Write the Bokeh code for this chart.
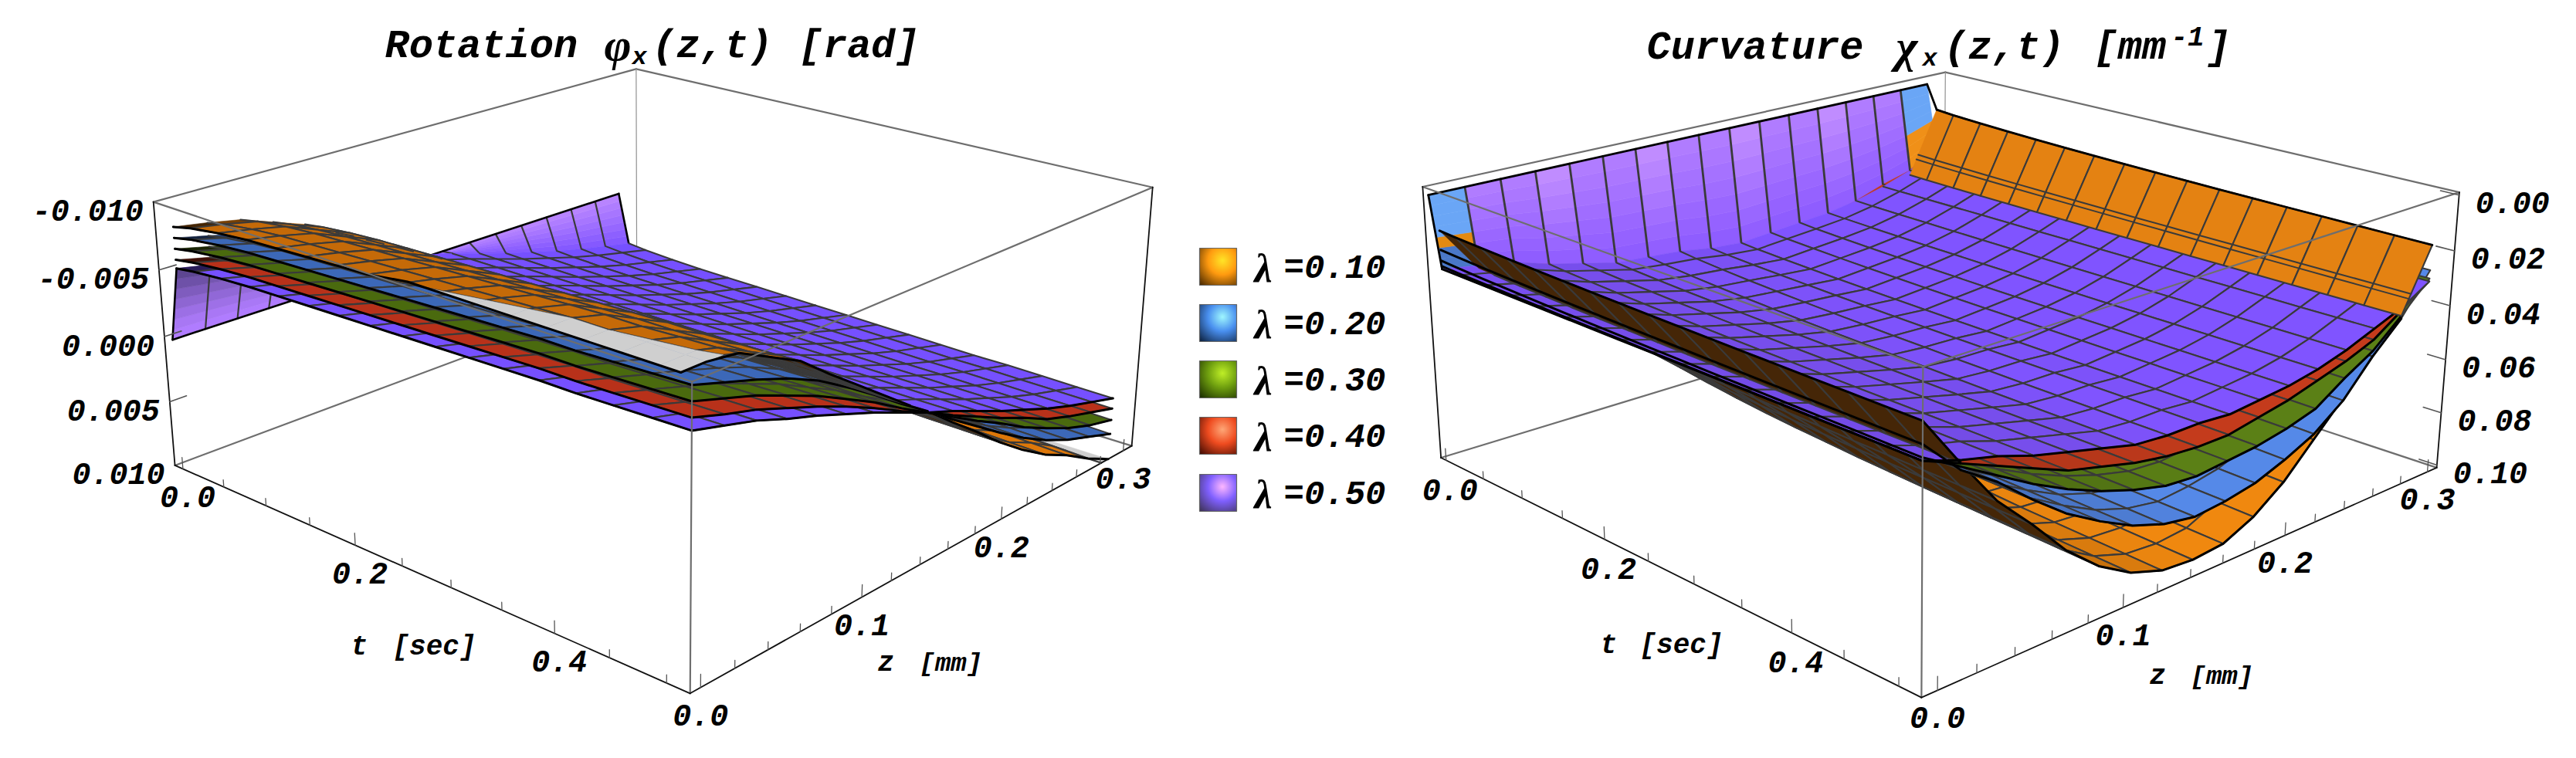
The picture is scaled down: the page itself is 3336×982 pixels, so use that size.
import numpy as np
from bokeh.plotting import figure
from bokeh.models import ColumnDataSource, Range1d
from bokeh.core.properties import value
from bokeh.embed import file_html
from bokeh.resources import INLINE

# ---------- values ----------
LAMBDAS = ["0.10", "0.20", "0.30", "0.40", "0.50"]
Z_TICKS = [0.0, 0.1, 0.2, 0.3]
T_TICKS = [0.0, 0.2, 0.4]
ROT_TICKS = [-0.010, -0.005, 0.000, 0.005, 0.010]
CURV_TICKS = [0.00, 0.02, 0.04, 0.06, 0.08, 0.10]

# rotation at the t-end of the surface along z, unit 1e-4 rad
rot_010 = [-108, -103, -97, -86, -75, -58, -42, -26, -10, 7, 23, 40, 55, 68, 78, 90, 105]
rot_020 = [-98, -91, -84, -76, -66, -53, -39, -24, -10, 5, 19, 33, 46, 57, 66, 73, 80]
rot_030 = [-88, -81, -74, -65, -56, -45, -34, -21, -9, 3, 15, 26, 38, 48, 57, 64, 69]
rot_040 = [-78, -71, -65, -57, -49, -40, -30, -19, -9, 2, 12, 22, 31, 41, 48, 54, 60]
rot_050 = [-70, -64, -58, -50, -43, -35, -27, -18, -9, -1, 8, 17, 25, 33, 40, 46, 52]
# share of that profile reached at each t station
rot_time = [0.80, 0.83, 0.86, 0.88, 0.89, 0.90, 0.91, 0.92, 0.93, 0.94, 0.95, 0.96, 0.97, 0.97, 0.98, 0.99, 1.0]

# curvature along z just after t=0 and at the t-end, unit 1e-3 1/mm
curv_s_010 = [13, 30, 38, 46, 54, 60, 64, 66, 67, 66, 62, 57, 50, 44, 40, 36, 11]
curv_s_020 = [20, 28, 34, 40, 46, 50, 54, 56, 58, 58, 56, 52, 48, 44, 40, 36, 21]
curv_s_030 = [24, 29, 33, 37, 41, 46, 49, 52, 53, 53, 52, 49, 46, 42, 38, 35, 25]
curv_s_040 = [26, 29, 32, 35, 39, 43, 46, 48, 49, 50, 48, 46, 44, 41, 37, 34, 26]
curv_s_050 = [27, 29, 31, 35, 38, 41, 42, 43, 45, 46, 45, 44, 43, 41, 38, 34, 27]
curv_e_010 = [15, 32, 48, 60, 73, 83, 90, 94, 95, 94, 89, 81, 70, 59, 47, 37, 15]
curv_e_020 = [22, 34, 42, 52, 61, 68, 74, 78, 80, 79, 77, 73, 68, 60, 48, 38, 24]
curv_e_030 = [26, 33, 40, 47, 53, 58, 62, 65, 66, 65, 64, 62, 59, 52, 46, 37, 27]
curv_e_040 = [27, 32, 37, 42, 47, 50, 53, 55, 56, 56, 54, 52, 49, 46, 42, 35, 28]
curv_e_050 = [27, 31, 34, 38, 41, 44, 47, 48, 48, 49, 48, 47, 45, 42, 38, 34, 28]
curv_blend = [0.0, 0.15, 0.30, 0.42, 0.52, 0.60, 0.67, 0.73, 0.78, 0.82, 0.86, 0.89, 0.92, 0.94, 0.96, 0.98, 1.0]

# ---------- style / camera ----------
ROT_COL = ["#C56A08", "#3C68B8", "#4A6A0E", "#B8311A", "#7650FF"]
CUR_COL = ["#F0880F", "#5589E8", "#5B8016", "#C43B1C", "#8054FF"]
UNDER = ["#452607", "#1C3058", "#1E2C06", "#4A140A", "#2C2060"]
MESH = "#3a3a3a"
MESH_W = 2.1
BOX = "#6e6e6e"
FONT = value("Liberation Mono")
SERIF = value("Liberation Serif")
N_CELL = 16
T_WALL = 0.012
T_END = 0.52
T_END_010 = 0.505
SHIFT = 6


def hx(c):
    return np.array([int(c[i:i + 2], 16) for i in (1, 3, 5)], float)


def tohex(a):
    a = np.clip(np.round(a), 0, 255).astype(int)
    return "#%02x%02x%02x" % tuple(a)


def mix(c1, c2, f):
    return tohex(hx(c1) * (1 - f) + hx(c2) * f)


def Y(y):
    return 982 - y


class Cam:
    def __init__(s, corners, zr, tr, vr):
        A = []
        for (u, v, w), (x, y) in corners.items():
            X = [u, v, w, 1]
            A.append(X + [0] * 4 + [-x * c for c in X])
            A.append([0] * 4 + X + [-y * c for c in X])
        V = np.linalg.svd(np.array(A, float))[2]
        s.P = V[-1].reshape(3, 4)
        if s.P[2] @ np.array([0, 0, 0, 1.0]) < 0:
            s.P = -s.P
        s.zr, s.tr, s.vr = zr, tr, vr
        s.sign = 1 if s.w(zr[0], tr[1], vr[0]) < s.w(zr[1], tr[0], vr[0]) else -1

    def X(s, z, t, v):
        return np.array([(z - s.zr[0]) / (s.zr[1] - s.zr[0]), (t - s.tr[0]) / (s.tr[1] - s.tr[0]),
                         (v - s.vr[0]) / (s.vr[1] - s.vr[0]), 1.0])

    def w(s, z, t, v):
        return s.P[2] @ s.X(z, t, v)

    def xy(s, z, t, v):
        h = s.P @ s.X(z, t, v)
        return h[0] / h[2], h[1] / h[2]

    def depth(s, poly):
        c = np.mean(poly, axis=0)
        return s.sign * s.w(*c)


ROT = Cam({(0, 0, 0): (228, 603), (0, 1, 0): (896, 901), (1, 1, 0): (1468, 575), (1, 0, 0): (825, 385),
           (0, 0, 1): (201, 262), (0, 1, 1): (896, 498), (1, 1, 1): (1494, 246), (1, 0, 1): (826, 89)},
          (-0.006, 0.3075), (-0.01, T_END), (0.01, -0.01))
CUR = Cam({(0, 0, 0): (1869, 594), (0, 1, 0): (2491, 906), (1, 1, 0): (3159, 605), (1, 0, 0): (2515, 398),
           (0, 0, 1): (1843, 243), (0, 1, 1): (2490, 477), (1, 1, 1): (3185, 252), (1, 0, 1): (2524, 94)},
          (-0.008, 0.307), (-0.007, T_END), (0.101, -0.001))

p = figure(width=3320, height=966, x_range=Range1d(8 - SHIFT, 3328 - SHIFT), y_range=Range1d(8 + SHIFT, 974 + SHIFT),
           output_backend="svg", toolbar_location=None, min_border=0,
           x_axis_type=None, y_axis_type=None, background_fill_color="white", border_fill_color="white")
p.grid.visible = False
p.outline_line_color = None


def draw_cells(cam, cells):
    """cells: list of (poly3d, fill, line_color, line_width)"""
    if not cells:
        return
    cells = sorted(cells, key=lambda c: -cam.depth(c[0]))
    xs, ys, fc, lc, lw = [], [], [], [], []
    for poly, f, l, w in cells:
        pts = [cam.xy(*q) for q in poly]
        xs.append([a for a, _ in pts])
        ys.append([Y(b) for _, b in pts])
        fc.append(f)
        lc.append(l)
        lw.append(w)
    p.patches("xs", "ys", source=ColumnDataSource(dict(xs=xs, ys=ys, fc=fc, lc=lc, lw=lw)),
              fill_color="fc", line_color="lc", line_width="lw", line_join="round")


def draw_lines(cam, lines, color, width):
    if not lines:
        return
    xs, ys = [], []
    for ln in lines:
        pts = [cam.xy(*q) for q in ln]
        xs.append([a for a, _ in pts])
        ys.append([Y(b) for _, b in pts])
    p.multi_line(xs, ys, line_color=color, line_width=width, line_join="round", line_cap="round")


def box_lines(cam, which, color, width):
    z0, z1 = cam.zr
    t0, t1 = cam.tr
    vb, vt = cam.vr
    c = {"E": (z0, t0, vb), "F": (z0, t1, vb), "G": (z1, t1, vb), "H": (z1, t0, vb),
         "A": (z0, t0, vt), "C": (z0, t1, vt), "D": (z1, t1, vt), "B": (z1, t0, vt)}
    draw_lines(cam, [[c[a], c[b]] for a, b in which], color, width)


def signed_area(cam, poly):
    pts = [cam.xy(*q) for q in poly]
    return sum(pts[i][0] * pts[(i + 1) % len(pts)][1] - pts[(i + 1) % len(pts)][0] * pts[i][1]
               for i in range(len(pts))) / 2


def clip_poly(poly, f):
    out = []
    for i, a in enumerate(poly):
        b = poly[(i + 1) % len(poly)]
        fa, fb = f(a), f(b)
        if fa >= 0:
            out.append(a)
        if fa * fb < 0:
            k = fa / (fa - fb)
            out.append(tuple(a[n] + k * (b[n] - a[n]) for n in range(3)))
    return out


def surface_cells(cam, zs, ts, V, top, under, irange, shade=0.0, clip=None, dark_corner=False, gain=1.0):
    cells = []
    vspan = abs(cam.vr[1] - cam.vr[0])
    zspan = cam.zr[1] - cam.zr[0]
    for j in range(len(ts) - 1):
        for i in irange:
            poly = [(zs[i], ts[j], V[j][i]), (zs[i + 1], ts[j], V[j][i + 1]),
                    (zs[i + 1], ts[j + 1], V[j + 1][i + 1]), (zs[i], ts[j + 1], V[j + 1][i])]
            slope = ((V[j][i + 1] - V[j][i]) / vspan) / ((zs[i + 1] - zs[i]) / zspan)
            if signed_area(cam, poly) > 0:
                col = tohex(hx(top) * gain * (1 - shade * float(np.clip(slope / 1.5, 0, 1))))
            else:
                col = under
            if dark_corner and j == 0 and i <= 1:
                col = tohex(hx(top) * (0.35 if i == 0 else 0.6))
            line, lw = MESH, MESH_W
            if j == 0:
                line, lw = col, 0.6
            if clip is None:
                cells.append((poly, col, line, lw))
            else:
                lo, hi, zg = clip
                keep = clip_poly(clip_poly(poly, lambda q: q[2] - lo), lambda q: hi - q[2])
                if len(keep) >= 3:
                    cells.append((keep, col, line, lw))
                g1 = clip_poly(clip_poly(poly, lambda q: lo - q[2]), lambda q: q[0] - zg)
                if len(g1) >= 3:
                    cells.append(([(a, b, lo) for a, b, _ in g1], "#CFCFCF", "#CFCFCF", 0.5))
                g2 = clip_poly(poly, lambda q: q[2] - hi)
                if len(g2) >= 3:
                    cells.append(([(a, b, hi) for a, b, _ in g2], "#CFCFCF", "#CFCFCF", 0.5))
    return cells


def first_row_lines(zs, ts, V, irange):
    return [[(zs[i], ts[0], V[0][i]), (zs[i], ts[1], V[1][i])] for i in irange]


def ticks(cam, t_tick_minor, z_tick_minor, vals, vdir, color="#555555"):
    vspan = cam.vr[1] - cam.vr[0]
    lines = []
    for t in t_tick_minor:
        L = 0.045 if round(t * 20) % 4 == 0 else 0.028
        lines.append([(cam.zr[0], t, cam.vr[0]), (cam.zr[0], t, cam.vr[0] + L * vspan)])
    for z in z_tick_minor:
        L = 0.045 if round(z * 50) % 5 == 0 else 0.028
        lines.append([(z, cam.tr[1], cam.vr[0]), (z, cam.tr[1], cam.vr[0] + L * vspan)])
    draw_lines(cam, lines, color, 1.3)
    lines = []
    for v in vals:
        if vdir == "left":
            lines.append([(cam.zr[0], cam.tr[0], v), (cam.zr[0] + 0.03 * (cam.zr[1] - cam.zr[0]), cam.tr[0], v)])
        else:
            lines.append([(cam.zr[1], cam.tr[1], v), (cam.zr[1], cam.tr[1] - 0.03 * (cam.tr[1] - cam.tr[0]), v)])
    draw_lines(cam, lines, color, 1.6)


def txt(x, y, s, size, font=FONT, align="left", style="bold italic"):
    p.text([x], [Y(y)], text=[s], text_font=font, text_font_size=f"{size}px", text_font_style=style,
           text_align=align, text_baseline="middle", text_color="black")


# ---------- station grids ----------
t_st = np.linspace(0, T_END, N_CELL + 1)
t_st[0] = T_WALL

# ========== LEFT ==========
rz = np.linspace(-0.006, 0.287, N_CELL + 1)
rot_profiles = [rot_010, rot_020, rot_030, rot_040, rot_050]
RV = [[[a * 1e-4 * h for a in prof] for h in rot_time] for prof in rot_profiles]

box_lines(ROT, ["EH", "HG", "AB", "BD"], BOX, 2.2)
box_lines(ROT, ["BH"], "#909090", 1.2)

# the wall at t=0 (only the λ=0.50 sheet shows)
wall = []
NB = 7
for i in range(N_CELL):
    for k in range(NB):
        f0, f1 = k / NB, (k + 1) / NB
        va, vb = RV[4][0][i], RV[4][0][i + 1]
        poly = [(rz[i], f0 * T_WALL, f0 * va), (rz[i + 1], f0 * T_WALL, f0 * vb),
                (rz[i + 1], f1 * T_WALL, f1 * vb), (rz[i], f1 * T_WALL, f1 * va)]
        if i < 8:
            c = mix("#B07CFF", "#4A3A78", f0 ** 1.3 * (1 - i / 10))
        else:
            c = mix("#B884FF", "#7C52FF", f0)
        wall.append((poly, c, c, 0.6))
draw_cells(ROT, wall)
draw_lines(ROT, [[(rz[i], 0, 0), (rz[i], T_WALL, RV[4][0][i])] for i in range(1, N_CELL)], MESH, 2.2)
draw_lines(ROT, [[(rz[0], 0, 0), (rz[N_CELL], 0, 0)], [(rz[0], 0, 0), (rz[0], T_WALL, RV[4][0][0])],
                 [(rz[N_CELL], 0, 0), (rz[N_CELL], T_WALL, RV[4][0][N_CELL])]], "black", 2.6)

ZG = -0.002
CLIP = (-0.01, 0.01, ZG)
# far half: λ=0.10 lies lowest there
for n in range(5):
    cl = CLIP if n == 0 else None
    draw_cells(ROT, surface_cells(ROT, rz, t_st, RV[n], ROT_COL[n], UNDER[n], range(8, N_CELL), clip=cl, gain=1.12 if n == 0 else 1.0))
    draw_lines(ROT, first_row_lines(rz, t_st, RV[n], range(8, N_CELL + 1)), MESH, MESH_W)
    draw_lines(ROT, [[(rz[i], T_END, float(np.clip(RV[n][-1][i], -0.01, 0.01))) for i in range(8, N_CELL + 1)]], "black", 3)
# near half: λ=0.10 lies highest there and stops a little short of the t-end
for n in range(4, -1, -1):
    cl = CLIP if n == 0 else None
    ts = t_st.copy()
    if n == 0:
        ts[-1] = T_END_010
    rows = RV[n]
    draw_cells(ROT, surface_cells(ROT, rz, ts, rows, ROT_COL[n], UNDER[n], range(0, 8), clip=cl, dark_corner=True))
    draw_lines(ROT, first_row_lines(rz, ts, rows, range(0, 9)), MESH, MESH_W)
    ends = ZG if n == 0 else rz[0]
    line = [(max(rz[i], ends), ts[-1], float(np.clip(rows[-1][i], -0.01, 0.01))) for i in range(0, 9)]
    draw_lines(ROT, [line], "black", 3)
    edge = []
    for j in range(len(ts)):
        v = rows[j][0]
        edge.append((ZG, ts[j], -0.01) if v < -0.01 else (rz[0], ts[j], v))
    draw_lines(ROT, [edge], "black", 3)

box_lines(ROT, ["AC", "CD", "CF"], BOX, 2.2)
box_lines(ROT, ["EF", "FG", "AE", "DG"], "#111111", 1.8)
ticks(ROT, [i * 0.05 for i in range(11)], [i * 0.02 for i in range(16)], ROT_TICKS[1:4], "left")

for t in T_TICKS:
    x, y = ROT.xy(ROT.zr[0], t, ROT.vr[0])
    txt(x + 6, y + 36, f"{t:.1f}", 40, align="center")
for z in Z_TICKS:
    x, y = ROT.xy(z, ROT.tr[1], ROT.vr[0])
    txt(x, y + 36, f"{z:.1f}", 40, align="center")
for v in ROT_TICKS:
    x, y = ROT.xy(ROT.zr[0], ROT.tr[0], v)
    txt(x - 13, y + 11, f"{v:.3f}", 40, align="right")

txt(500, 62, "Rotation", 52)
txt(784, 59, "φ", 60, font=SERIF)
txt(820, 76, "x", 32)
txt(846, 62, "(z,t)", 52)
txt(1036, 62, "[rad]", 52)
txt(456, 840, "t", 36)
txt(510, 840, "[sec]", 36)
txt(1138, 861, "z", 36)
txt(1192, 861, "[mm]", 34)

# ========== RIGHT ==========
cz = np.linspace(-0.008, 0.29, N_CELL + 1)
c_start = [curv_s_010, curv_s_020, curv_s_030, curv_s_040, curv_s_050]
c_end = [curv_e_010, curv_e_020, curv_e_030, curv_e_040, curv_e_050]
CV = [[[(s + g * (e - s)) * 1e-3 for s, e in zip(c_start[n], c_end[n])] for g in curv_blend] for n in range(5)]

box_lines(CUR, ["EH", "HG", "AB", "BD"], BOX, 2.2)
box_lines(CUR, ["BH"], "#909090", 1.2)

V_WALL = 0.0013
wall = []
for i in range(N_CELL):
    for k in range(NB):
        f0, f1 = k / NB, (k + 1) / NB
        va, vb = CV[4][0][i], CV[4][0][i + 1]
        poly = [(cz[i], f0 * T_WALL, V_WALL + f0 * (va - V_WALL)), (cz[i + 1], f0 * T_WALL, V_WALL + f0 * (vb - V_WALL)),
                (cz[i + 1], f1 * T_WALL, V_WALL + f1 * (vb - V_WALL)), (cz[i], f1 * T_WALL, V_WALL + f1 * (va - V_WALL))]
        c = mix("#B07CFF" if i % 3 else "#C08CFF", "#8A58FF", f0)
        if i == 0:
            c = "#6AA6F6" if not 0.45 < f0 < 0.7 else "#E48A12"
            if f0 >= 0.7:
                c = "#4A78C8"
        if i == N_CELL - 1:
            c = "#6AA6F6" if f0 < 0.45 else "#F09018"
        wall.append((poly, c, c, 0.6))
draw_cells(CUR, wall)
draw_lines(CUR, [[(cz[i], 0, V_WALL), (cz[i], T_WALL, CV[4][0][i])] for i in range(1, N_CELL)], MESH, 2.8)

for n in range(1, 5):
    draw_cells(CUR, surface_cells(CUR, cz, t_st, CV[n], CUR_COL[n], UNDER[n], [N_CELL - 1]))
for n in range(5):
    draw_cells(CUR, surface_cells(CUR, cz, t_st, CV[n], CUR_COL[n], UNDER[n], range(1, N_CELL - 1), shade=0.22))
    draw_lines(CUR, first_row_lines(cz, t_st, CV[n], range(1, N_CELL)), MESH, MESH_W)
    draw_lines(CUR, [[(cz[i], T_END, CV[n][-1][i]) for i in range(1, N_CELL)]], "black", 3)
# near the z=0 side the sheets lie the other way round
for n in (4, 0):
    draw_cells(CUR, surface_cells(CUR, cz, t_st, CV[n], CUR_COL[n], UNDER[n], [0], shade=0.22))
for n in range(4, -1, -1):
    draw_lines(CUR, [[(cz[0], t_st[j], CV[n][j][0]) for j in range(len(t_st))],
                     [(cz[0], T_END, CV[n][-1][0]), (cz[1], T_END, CV[n][-1][1])]], "black", 3)
# the orange wall at the z end
draw_cells(CUR, surface_cells(CUR, cz, t_st, CV[0], "#E48212", UNDER[0], [N_CELL - 1]))
draw_lines(CUR, first_row_lines(cz, t_st, CV[0], [N_CELL - 1, N_CELL]), MESH, MESH_W)
dbl = []
for f in (0.24, 0.31):
    dbl.append([(cz[15] + f * (cz[16] - cz[15]), t_st[j], CV[0][j][15] + f * (CV[0][j][16] - CV[0][j][15]))
                for j in range(len(t_st))])
draw_lines(CUR, dbl, "#3a3a3a", 2)
edge = [(cz[0], 0, V_WALL), (cz[16], 0, V_WALL)]
draw_lines(CUR, [edge, [(cz[16], t, CV[0][j][16]) for j, t in enumerate(t_st)],
                 [(cz[16], 0, V_WALL), (cz[16], T_WALL, CV[0][0][16])]], "black", 2.8)
draw_lines(CUR, [[(cz[0], 0, V_WALL), (cz[0], T_WALL, CV[4][0][0])]], "black", 2.8)

box_lines(CUR, ["AC", "CD", "CF"], BOX, 2.2)
box_lines(CUR, ["EF", "FG", "AE", "DG"], "#111111", 1.8)
ticks(CUR, [i * 0.05 for i in range(11)], [i * 0.02 for i in range(16)], CURV_TICKS, "right")

for t in T_TICKS:
    x, y = CUR.xy(CUR.zr[0], t, CUR.vr[0])
    txt(x + 5, y + 38, f"{t:.1f}", 40, align="center")
for z in Z_TICKS:
    x, y = CUR.xy(z, CUR.tr[1], CUR.vr[0])
    txt(x, y + 35, f"{z:.1f}", 40, align="center")
for v in CURV_TICKS:
    x, y = CUR.xy(CUR.zr[1], CUR.tr[1], v)
    txt(x + 21, y + 10, f"{v:.2f}", 40)

txt(2134, 64, "Curvature", 52)
txt(2457, 61, "χ", 60, font=SERIF)
txt(2491, 78, "x", 32)
txt(2519, 64, "(z,t)", 52)
txt(2713, 64, "[mm", 52)
txt(2813, 48, "-1", 36)
txt(2859, 64, "]", 52)
txt(2074, 838, "t", 36)
txt(2125, 838, "[sec]", 36)
txt(2785, 878, "z", 36)
txt(2838, 878, "[mm]", 34)

# ========== LEGEND ==========
LEG_BRIGHT = ["#FFE628", "#A0F8FF", "#C0F028", "#FFA878", "#FFB8FF"]
LEG_MID = ["#FF9A10", "#4A90F0", "#70A010", "#F04C20", "#8060FF"]
LEG_DARK = ["#3A2000", "#081830", "#142400", "#340600", "#383048"]
LEG_Y = [347, 420, 493, 566, 640]
LEG_S = 48
for n, lab in enumerate(LAMBDAS):
    g = np.arange(48) / 47.0
    xx, yy = np.meshgrid(g, g)              # row 0 is the lower edge
    r = np.hypot(xx - 0.62, (1 - yy) - 0.33) / 0.95
    f = np.clip(r, 0, 1)[..., None]
    a, b, c = hx(LEG_BRIGHT[n]), hx(LEG_MID[n]), hx(LEG_DARK[n])
    rgb = np.where(f < 0.42, a + (b - a) * (f / 0.42), b + (c - b) * ((f - 0.42) / 0.58))
    img = np.zeros((48, 48), dtype=np.uint32)
    view = img.view(dtype=np.uint8).reshape((48, 48, 4))
    view[..., :3] = np.clip(rgb, 0, 255).astype(np.uint8)
    view[..., 3] = 255
    y0 = LEG_Y[n] + LEG_S / 2
    p.image_rgba(image=[img], x=1555, y=Y(y0), dw=LEG_S, dh=LEG_S)
    p.quad(left=[1555], right=[1555 + LEG_S], bottom=[Y(y0)], top=[Y(y0) + LEG_S],
           fill_alpha=0, line_color="#666666", line_width=1.2)
    txt(1626, LEG_Y[n] + 2, "λ", 52, font=SERIF)
    txt(1664, LEG_Y[n] + 2, "=" + lab, 44)

open("out.html", "w").write(file_html(p, INLINE))
